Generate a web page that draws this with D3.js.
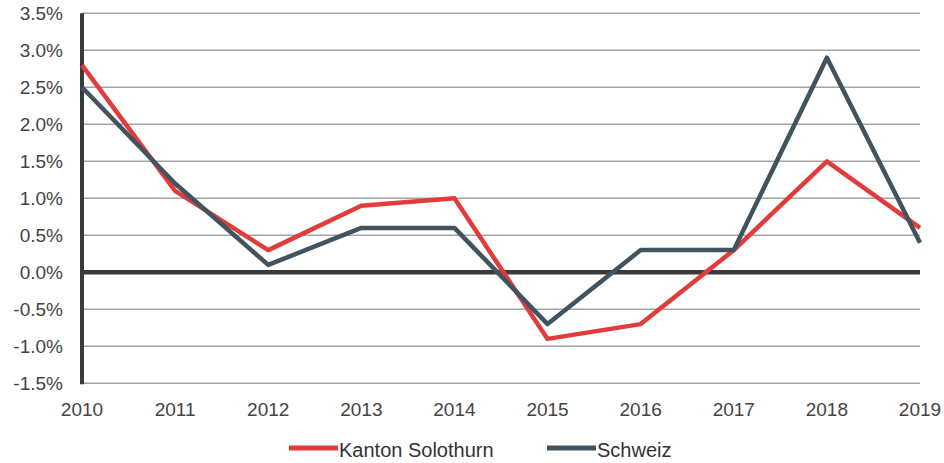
<!DOCTYPE html>
<html>
<head>
<meta charset="utf-8">
<script src="https://cdn.jsdelivr.net/npm/d3@7"></script>
<style>
  body { margin: 0; background: #fff; }
  text { font-family: "Liberation Sans", Arial, sans-serif; fill: #444; }
</style>
</head>
<body>
<div id="chart"></div>
<script>
// Data
var years = [2010, 2011, 2012, 2013, 2014, 2015, 2016, 2017, 2018, 2019];
var solothurn = [2.8, 1.1, 0.3, 0.9, 1.0, -0.9, -0.7, 0.3, 1.5, 0.6];
var schweiz = [2.5, 1.2, 0.1, 0.6, 0.6, -0.7, 0.3, 0.3, 2.9, 0.4];
var yTicks = [-1.5, -1.0, -0.5, 0.0, 0.5, 1.0, 1.5, 2.0, 2.5, 3.0, 3.5];
var seriesNames = ["Kanton Solothurn", "Schweiz"];
var seriesColors = ["#e23b3b", "#41535f"];

// Sizing
var width = 944, height = 463;
var plot = {left: 82, right: 920, top: 13.3, bottom: 383.3};

var svg = d3.select("#chart")
  .append("svg")
    .attr("width", width)
    .attr("height", height);

var x = d3.scalePoint()
  .domain(years)
  .range([plot.left, plot.right]);

var y = d3.scaleLinear()
  .domain([-1.5, 3.5])
  .range([plot.bottom, plot.top]);

// Gridlines
svg.append("g")
  .selectAll("line")
  .data(yTicks.filter(function(d) { return d !== 0; }))
  .enter()
  .append("line")
    .attr("x1", plot.left)
    .attr("x2", plot.right)
    .attr("y1", function(d) { return y(d); })
    .attr("y2", function(d) { return y(d); })
    .attr("stroke", "#a3a3a3")
    .attr("stroke-width", 1.6);

// Y labels
svg.append("g")
  .selectAll("text")
  .data(yTicks)
  .enter()
  .append("text")
    .attr("x", 63)
    .attr("y", function(d) { return y(d); })
    .attr("dy", "0.36em")
    .attr("text-anchor", "end")
    .style("font-size", "19px")
    .text(function(d) { return d.toFixed(1) + "%"; });

// X labels
svg.append("g")
  .selectAll("text")
  .data(years)
  .enter()
  .append("text")
    .attr("x", function(d) { return x(d); })
    .attr("y", 415.5)
    .attr("text-anchor", "middle")
    .style("font-size", "19px")
    .text(function(d) { return d; });

// Zero line and y axis line
svg.append("line")
  .attr("x1", plot.left)
  .attr("x2", plot.right)
  .attr("y1", y(0))
  .attr("y2", y(0))
  .attr("stroke", "#3a3a3a")
  .attr("stroke-width", 4.5);

svg.append("line")
  .attr("x1", plot.left)
  .attr("x2", plot.left)
  .attr("y1", plot.top)
  .attr("y2", plot.bottom + 1)
  .attr("stroke", "#3a3a3a")
  .attr("stroke-width", 4);

// Lines
var line = d3.line()
  .x(function(d, i) { return x(years[i]); })
  .y(function(d) { return y(d); });

[solothurn, schweiz].forEach(function(vals, i) {
  svg.append("path")
    .datum(vals)
    .attr("fill", "none")
    .attr("stroke", seriesColors[i])
    .attr("stroke-width", 4.5)
    .attr("stroke-linejoin", "round")
    .attr("d", line);
});

// Legend
var legendX = [289, 547];
var legend = svg.append("g")
  .selectAll("g")
  .data(seriesNames)
  .enter()
  .append("g")
    .attr("transform", function(d, i) { return "translate(" + legendX[i] + ",448)"; });

legend.append("line")
  .attr("x1", 0)
  .attr("x2", 49)
  .attr("stroke", function(d, i) { return seriesColors[i]; })
  .attr("stroke-width", 5);

legend.append("text")
  .attr("x", 50)
  .attr("y", 8.5)
  .style("font-size", "20px")
  .style("fill", "#333")
  .text(function(d) { return d; });
</script>
</body>
</html>
